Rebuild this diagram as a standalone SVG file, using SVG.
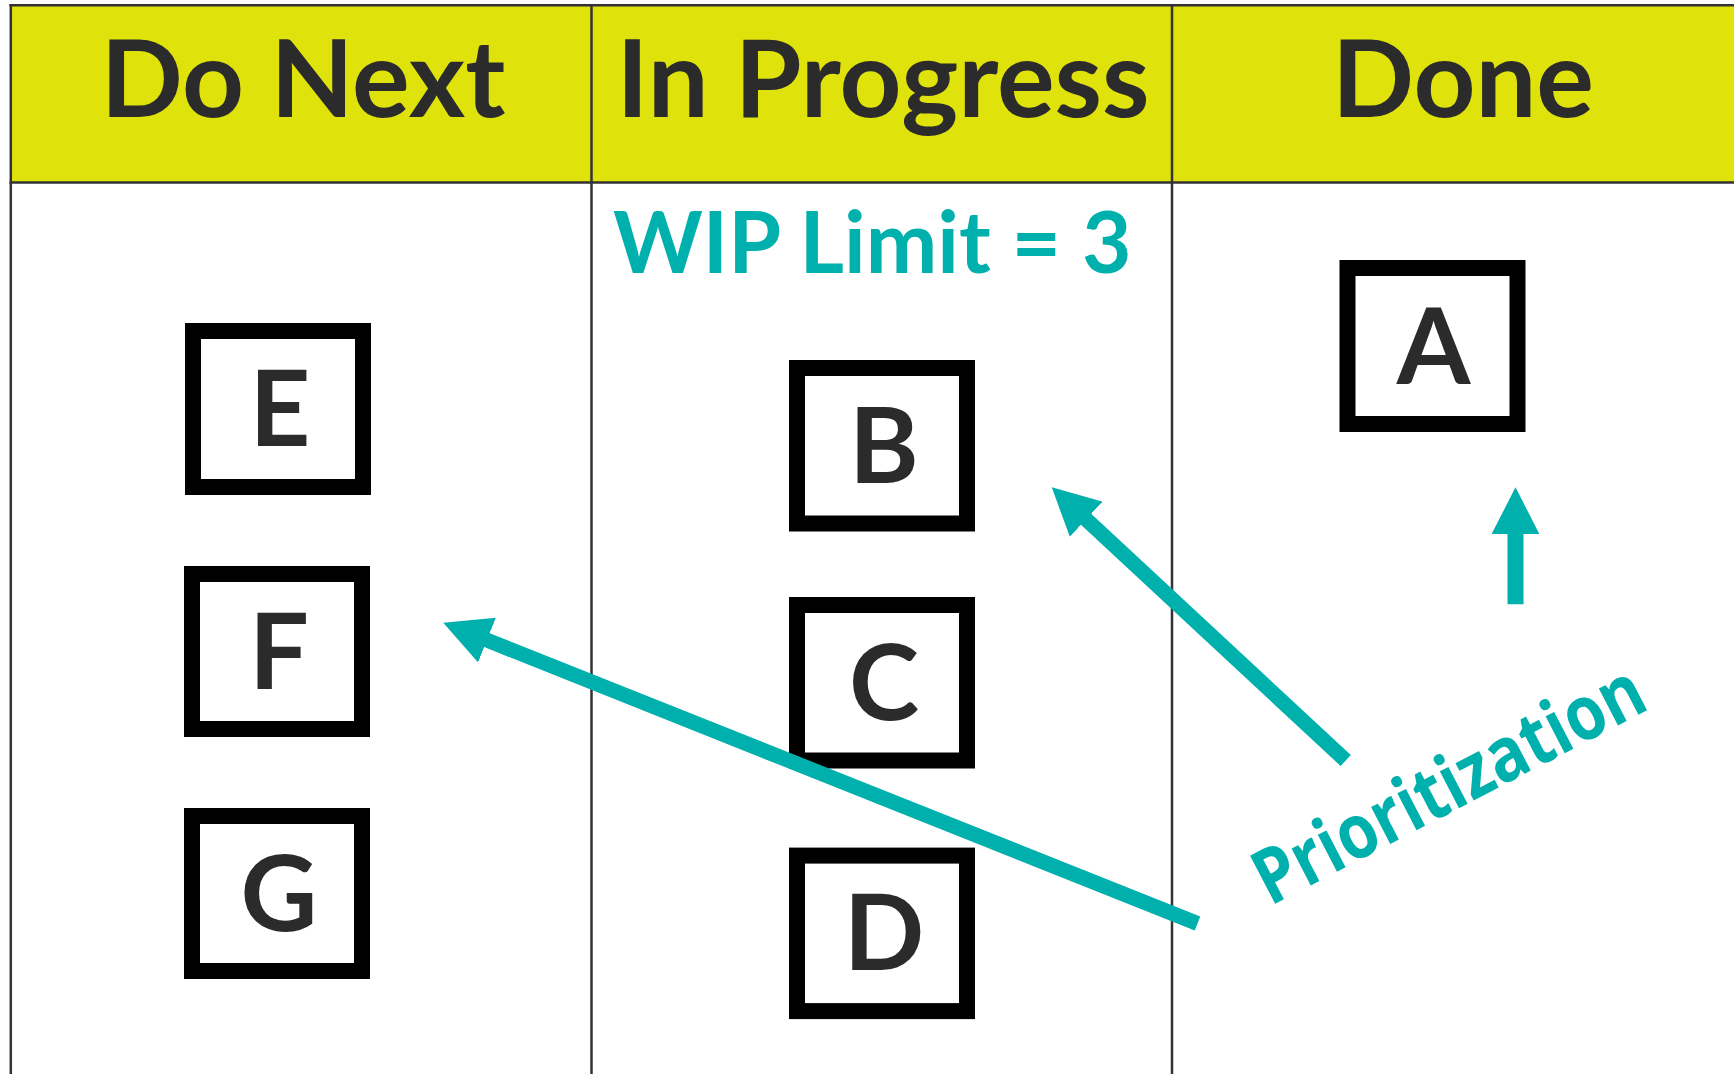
<svg xmlns="http://www.w3.org/2000/svg" width="1734" height="1074" viewBox="0 0 1734 1074">
  <style>
    .grid { stroke: #333333; stroke-width: 2.5; fill: none; }
    .head { font-family: Lato, "Liberation Sans", sans-serif; font-weight: 700; font-size: 108px; fill: #2b2b2b; text-anchor: middle; }
    .card { fill: #ffffff; stroke: #000000; stroke-width: 16; }
    .letter { font-family: Lato, "Liberation Sans", sans-serif; font-weight: 700; font-size: 106px; fill: #2b2b2b; text-anchor: middle; }
    .teal { font-family: Lato, "Open Sans", sans-serif; font-weight: 700; fill: #00b0ad; }
    .label { font-family: "Open Sans", "Liberation Sans", sans-serif; font-weight: 700; fill: #00b0ad; }
    .arrow { stroke: #00b0ad; stroke-width: 15; fill: none; marker-end: url(#ah); }
  </style>
  <defs>
    <marker id="ah" markerUnits="userSpaceOnUse" markerWidth="48" markerHeight="48" refX="2" refY="24" orient="auto" viewBox="0 0 48 48">
      <path d="M0,0 L47,24 L0,48 Z" fill="#00b0ad"/>
    </marker>
  </defs>

  <rect width="1734" height="1074" fill="#ffffff"/>

  <g id="board">
    <rect x="10.8" y="5.3" width="1730" height="177.2" fill="#e0e20b"/>
    <line class="grid" x1="9.5" y1="5.3" x2="1734" y2="5.3"/>
    <line class="grid" x1="9.5" y1="182.5" x2="1734" y2="182.5"/>
    <line class="grid" x1="10.8" y1="4" x2="10.8" y2="1074"/>
    <line class="grid" x1="591.5" y1="4" x2="591.5" y2="1074"/>
    <line class="grid" x1="1172" y1="4" x2="1172" y2="1074"/>
    <text class="head" x="303" y="117">Do Next</text>
    <text class="head" x="883" y="117">In Progress</text>
    <text class="head" x="1463" y="117">Done</text>
    <text class="teal" x="613" y="273" font-size="85.5">WIP Limit = 3</text>
  </g>

  <g id="node-E"><rect class="card" x="193" y="331" width="170" height="156"/><text class="letter" x="280" y="446">E</text></g>
  <g id="node-F"><rect class="card" x="192" y="574" width="170" height="155"/><text class="letter" x="279" y="688.5">F</text></g>
  <g id="node-G"><rect class="card" x="192" y="816" width="170" height="155"/><text class="letter" x="279" y="930.5">G</text></g>
  <g id="node-B"><rect class="card" x="797" y="368" width="170" height="155.5"/><text class="letter" x="884" y="483">B</text></g>
  <g id="node-C"><rect class="card" x="797" y="605" width="170" height="155.5"/><text class="letter" x="884" y="720">C</text></g>
  <g id="node-D"><rect class="card" x="797" y="855.6" width="170" height="155.5"/><text class="letter" x="884" y="970">D</text></g>
  <g id="node-A"><rect class="card" x="1347.5" y="268" width="170" height="156"/><text class="letter" x="1433.5" y="383.5">A</text></g>

  <g id="connectors">
    <line class="arrow" x1="1197.5" y1="923.5" x2="485.1" y2="639.4"/>
    <line class="arrow" x1="1345.7" y1="760.5" x2="1084.7" y2="517.9"/>
    <line class="arrow" x1="1515.5" y1="604.3" x2="1515.5" y2="532.3" style="stroke-width:16"/>
    <text class="label" transform="translate(1270,906.5) rotate(-27.5)" x="0" y="0" font-size="76" textLength="430" lengthAdjust="spacingAndGlyphs">Prioritization</text>
  </g>
</svg>
